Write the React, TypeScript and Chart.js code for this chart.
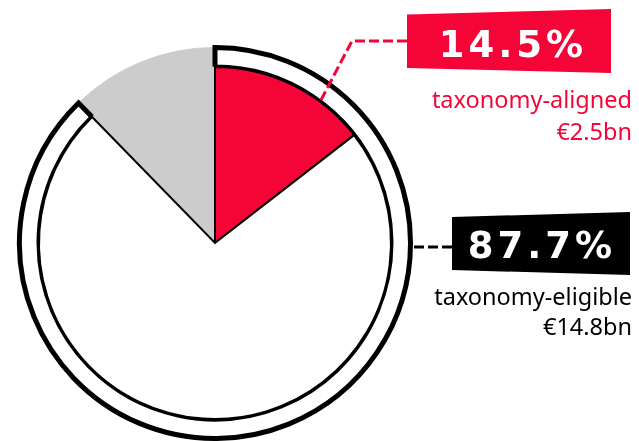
import React, { useEffect, useRef } from 'react';
import { Chart, registerables } from 'chart.js';

Chart.register(...registerables);

// ---- data ----
const pieLabels = ['Not taxonomy-eligible', 'Taxonomy-aligned', 'Taxonomy-eligible, not aligned'];
const pieValues = [12.3, 14.5, 73.2];
const ringLabels = ['Not taxonomy-eligible', 'Taxonomy-eligible'];
const ringValues = [12.3, 87.7];
const alignedShare = '14.5%';
const alignedLabel = 'taxonomy-aligned';
const alignedAmount = '€2.5bn';
const eligibleShare = '87.7%';
const eligibleLabel = 'taxonomy-eligible';
const eligibleAmount = '€14.8bn';

const RED = '#F50537';
const GREY = '#CCCCCC';
const FONT = "'Noto Sans', sans-serif";
const BIG_FONT = "'DejaVu Sans', 'Noto Sans', sans-serif";

export default function App() {
  const ref = useRef<HTMLCanvasElement>(null);

  useEffect(() => {
    const rotation = -(ringValues[0] / 100) * 360;
    const chart = new Chart(ref.current!, {
      type: 'pie',
      data: {
        labels: pieLabels,
        datasets: [
          {
            label: ringLabels.join(' / '),
            data: ringValues,
            backgroundColor: [GREY, '#FFFFFF'],
            borderColor: [GREY, '#000000'],
            borderWidth: [1, 5],
            hoverBorderWidth: [1, 5],
            borderJoinStyle: 'miter',
            weight: 19.5,
            order: 1,
          } as any,
          {
            label: 'share',
            data: pieValues,
            backgroundColor: [GREY, RED, '#FFFFFF'],
            borderColor: [GREY, '#000000', '#000000'],
            borderWidth: [1, 2, 2],
            hoverBorderWidth: [1, 2, 2],
            borderJoinStyle: 'miter',
            weight: 176,
            order: 0,
          } as any,
        ],
      },
      options: {
        animation: false,
        responsive: true,
        maintainAspectRatio: false,
        events: [],
        rotation,
        layout: { padding: { left: 17, top: 45, right: 226, bottom: 0 } },
        plugins: { legend: { display: false }, tooltip: { enabled: false } },
      },
    });
    return () => chart.destroy();
  }, []);

  return (
    <div style={{ position: 'absolute', left: 0, top: 0, width: 639, height: 441, background: '#fff' }}>
      <canvas ref={ref} />
      <svg
        width={639}
        height={441}
        style={{ position: 'absolute', left: 0, top: 0, pointerEvents: 'none' }}
      >
        <polyline points="407,41 352,41 321,100" fill="none" stroke={RED} strokeWidth={3} strokeDasharray="10 4" />
        <line x1={414} y1={247} x2={452} y2={247} stroke="#000" strokeWidth={3} strokeDasharray="10 4" />
        <polygon points="407,14.5 611,9 611,73 407,68" fill={RED} />
        <polygon points="452,217 630,212 630,275 452,270" fill="#000" />
        <text x={513} y={57} fill="#fff" fontFamily={BIG_FONT} fontWeight={700} fontSize={37} textAnchor="middle" letterSpacing={4}>
          {alignedShare}
        </text>
        <text x={542} y={258} fill="#fff" fontFamily={BIG_FONT} fontWeight={700} fontSize={37} textAnchor="middle" letterSpacing={4}>
          {eligibleShare}
        </text>
        <text x={632} y={107.5} fill={RED} fontFamily={FONT} fontSize={23.5} textAnchor="end">{alignedLabel}</text>
        <text x={632} y={139.5} fill={RED} fontFamily={FONT} fontSize={23.5} textAnchor="end">{alignedAmount}</text>
        <text x={632} y={305} fill="#000" fontFamily={FONT} fontSize={23.5} textAnchor="end">{eligibleLabel}</text>
        <text x={632} y={335} fill="#000" fontFamily={FONT} fontSize={23.5} textAnchor="end">{eligibleAmount}</text>
      </svg>
    </div>
  );
}
